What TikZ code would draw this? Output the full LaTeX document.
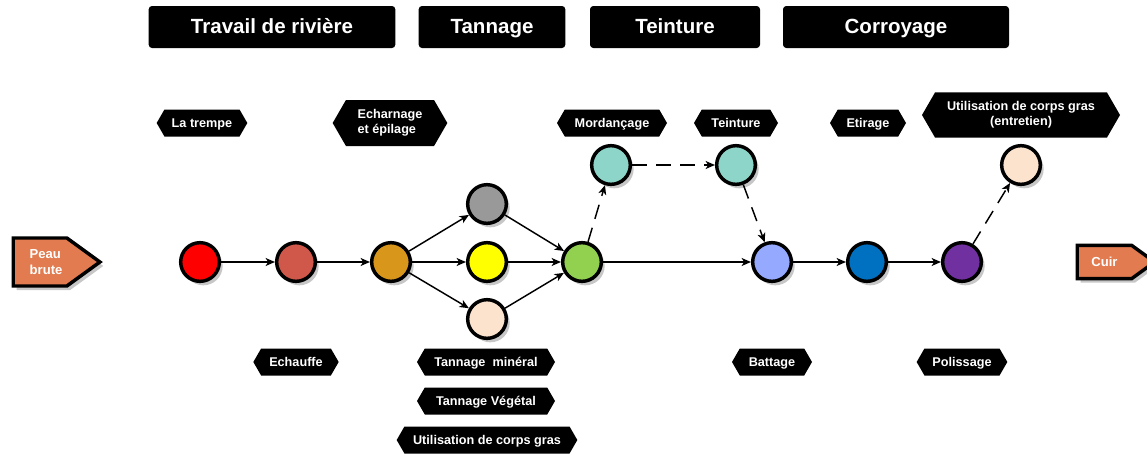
\documentclass[tikz,border=0pt]{standalone}
\usepackage{fontspec}
\setmainfont{Liberation Sans}
\usetikzlibrary{shapes.symbols,shadows,arrows.meta}
\definecolor{cRed}{HTML}{FF0000}
\definecolor{cBrick}{HTML}{D0584A}
\definecolor{cOrange}{HTML}{D8961A}
\definecolor{cGray}{HTML}{999999}
\definecolor{cYellow}{HTML}{FFFF00}
\definecolor{cPeach}{HTML}{FBE3CD}
\definecolor{cGreen}{HTML}{92D050}
\definecolor{cTeal}{HTML}{8DD5C8}
\definecolor{cLBlue}{HTML}{95A9FF}
\definecolor{cBlue}{HTML}{0070C0}
\definecolor{cPurple}{HTML}{7030A0}
\definecolor{cArrow}{HTML}{E27B4F}
\begin{document}
\begin{tikzpicture}[x=0.75pt,y=-0.75pt,
  shade/.style={drop shadow={shadow xshift=2.5pt,shadow yshift=-3pt,opacity=0.22,fill=black}},
  stage/.style={circle,draw=black,line width=2.6pt,minimum size=29pt,inner sep=0pt,shade},
  header/.style={fill=black,rounded corners=2.5pt,text=white,font=\bfseries\fontsize{15.4}{18}\selectfont,inner sep=0pt,minimum height=31.5pt,text height=1.2em,text depth=0.18em},
  hexlab/.style={signal,signal to=west and east,signal pointer angle=120,fill=black,text=white,font=\bfseries\fontsize{9.5}{11.5}\selectfont,inner sep=0pt,align=center,minimum height=20.25pt},
  onel/.style={text height=0.9em,text depth=0.18em},
  endarrow/.style={signal,signal to=east,fill=cArrow,draw=black,line width=2.6pt,text=white,font=\bfseries\fontsize{9.8}{12}\selectfont,align=center,inner sep=0pt,anchor=west,shade},
  flow/.style={-{Stealth[length=7pt,width=6pt,inset=2pt]},line width=1.1pt},
  dflow/.style={flow,dash pattern=on 11pt off 7pt}
]
\useasboundingbox (0,0) rectangle (1147,454);

% headers
\node[header,minimum width=185pt] (h1) at (272,27) {Travail de rivière};
\node[header,minimum width=110pt] (h2) at (492,27) {Tannage};
\node[header,minimum width=127.5pt] (h3) at (675,27) {Teinture};
\node[header,minimum width=169.5pt] (h4) at (896,27) {Corroyage};

% end arrows
\node[endarrow,align=left,minimum width=65pt,minimum height=36pt,signal pointer angle=72] (peau) at (11.5,262) {\hspace*{9pt}Peau\\\hspace*{9pt}brute};
\node[endarrow,onel,minimum width=58pt,minimum height=25pt,signal pointer angle=72] (cuir) at (1075.5,262) {Cuir};

% stage circles
\node[stage,fill=cRed] (c1) at (200,262) {};
\node[stage,fill=cBrick] (c2) at (296,262) {};
\node[stage,fill=cOrange] (c3) at (391,262) {};
\node[stage,fill=cGray] (c4) at (487,204) {};
\node[stage,fill=cYellow] (c5) at (487,262) {};
\node[stage,fill=cPeach] (c6) at (487,319) {};
\node[stage,fill=cGreen] (c7) at (582,262) {};
\node[stage,fill=cTeal] (c8) at (611,165) {};
\node[stage,fill=cTeal] (c9) at (736,165) {};
\node[stage,fill=cLBlue] (c10) at (772,262) {};
\node[stage,fill=cBlue] (c11) at (867,262) {};
\node[stage,fill=cPurple] (c12) at (962,262) {};
\node[stage,fill=cPeach] (c13) at (1021,165) {};

% connectors
\draw[flow] (c1) -- (c2);
\draw[flow] (c2) -- (c3);
\draw[flow] (c3) -- (c4);
\draw[flow] (c3) -- (c5);
\draw[flow] (c3) -- (c6);
\draw[flow] (c4) -- (c7);
\draw[flow] (c5) -- (c7);
\draw[flow] (c6) -- (c7);
\draw[flow] (c7) -- (c10);
\draw[flow] (c10) -- (c11);
\draw[flow] (c11) -- (c12);
\draw[dflow] (c7) -- (c8);
\draw[dflow] (c8) -- (c9);
\draw[dflow] (c9) -- (c10);
\draw[dflow] (c12) -- (c13);

% labels
\node[hexlab,onel,minimum width=68pt] (l1) at (202,123) {La trempe};
\node[hexlab,align=left,minimum width=86pt,minimum height=34.5pt] (l2) at (390,123) {Echarnage\\et épilage};
\node[hexlab,onel,minimum width=64pt] (l3) at (296,362) {Echauffe};
\node[hexlab,onel,minimum width=103.5pt] (l4) at (486,362) {Tannage\ \ minéral};
\node[hexlab,onel,minimum width=103.5pt] (l5) at (486,401) {Tannage Végétal};
\node[hexlab,onel,minimum width=135.5pt] (l6) at (487,440) {Utilisation de corps gras};
\node[hexlab,onel,minimum width=82.5pt] (l7) at (612,123) {Mordançage};
\node[hexlab,onel,minimum width=63pt] (l8) at (736,123) {Teinture};
\node[hexlab,onel,minimum width=57pt] (l9) at (868,123) {Etirage};
\node[hexlab,minimum width=148.5pt,minimum height=34pt] (l10) at (1021,115) {Utilisation de corps gras\\(entretien)};
\node[hexlab,onel,minimum width=60pt] (l11) at (772,362) {Battage};
\node[hexlab,onel,minimum width=68pt] (l12) at (962,362) {Polissage};
\end{tikzpicture}
\end{document}
